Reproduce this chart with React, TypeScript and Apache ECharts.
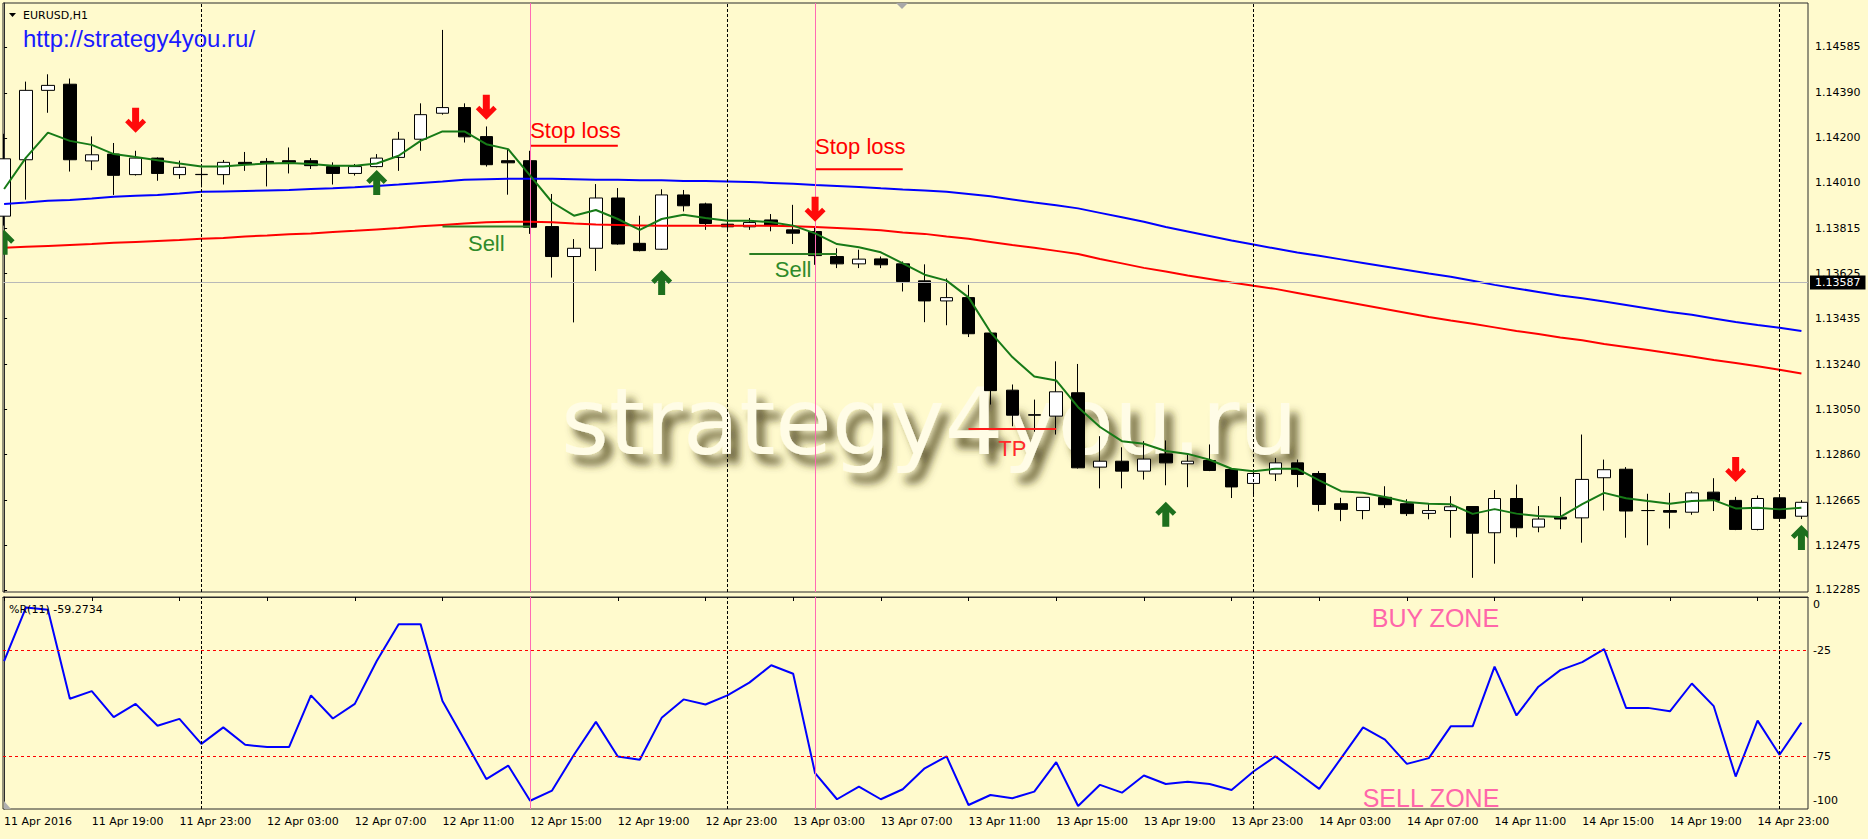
import React, { useEffect, useRef } from 'react';
import * as echarts from 'echarts';

// ---------- DATA ----------
// candles: [open, close, low, high], one per H1 bar starting 11 Apr 2016 15:00
const candles: [number, number, number, number][] = [
  [1.13868, 1.14111, 1.13828, 1.14217], [1.14107, 1.14401, 1.13938, 1.14438], [1.14401, 1.14422, 1.14306, 1.14469],
  [1.14427, 1.14107, 1.14057, 1.14451], [1.14102, 1.14128, 1.14063, 1.14206], [1.14131, 1.14041, 1.13958, 1.14178],
  [1.14044, 1.14114, 1.14040, 1.14145], [1.14114, 1.14049, 1.14018, 1.14117], [1.14044, 1.14075, 1.14026, 1.14103],
  [1.14044, 1.14045, 1.13990, 1.14075], [1.14044, 1.14096, 1.14002, 1.14106], [1.14096, 1.14089, 1.14060, 1.14140],
  [1.14100, 1.14093, 1.13994, 1.14114], [1.14103, 1.14096, 1.14049, 1.14159], [1.14103, 1.14082, 1.14068, 1.14114],
  [1.14078, 1.14049, 1.14002, 1.14096], [1.14049, 1.14078, 1.14040, 1.14089], [1.14078, 1.14114, 1.14075, 1.14131],
  [1.14117, 1.14194, 1.14060, 1.14225], [1.14194, 1.14298, 1.14145, 1.14346], [1.14304, 1.14328, 1.14298, 1.14657],
  [1.14328, 1.14204, 1.14180, 1.14346], [1.14205, 1.14086, 1.14078, 1.14248], [1.14103, 1.14094, 1.13959, 1.14152],
  [1.14103, 1.13821, 1.13793, 1.14145], [1.13824, 1.13697, 1.13608, 1.13962], [1.13697, 1.13732, 1.13418, 1.13771],
  [1.13732, 1.13945, 1.13636, 1.14004], [1.13945, 1.13750, 1.13747, 1.13987], [1.13753, 1.13722, 1.13719, 1.13870],
  [1.13728, 1.13958, 1.13725, 1.13982], [1.13958, 1.13912, 1.13888, 1.13979], [1.13920, 1.13837, 1.13810, 1.13925],
  [1.13834, 1.13823, 1.13808, 1.13899], [1.13823, 1.13841, 1.13810, 1.13860], [1.13852, 1.13828, 1.13804, 1.13877],
  [1.13810, 1.13796, 1.13750, 1.13916], [1.13803, 1.13701, 1.13662, 1.13824], [1.13697, 1.13666, 1.13648, 1.13732],
  [1.13666, 1.13686, 1.13648, 1.13726], [1.13687, 1.13662, 1.13648, 1.13697], [1.13666, 1.13591, 1.13549, 1.13676],
  [1.13594, 1.13509, 1.13419, 1.13664], [1.13509, 1.13523, 1.13406, 1.13604], [1.13523, 1.13370, 1.13356, 1.13577],
  [1.13373, 1.13129, 1.13070, 1.13373], [1.13131, 1.13025, 1.12978, 1.13155], [1.13027, 1.13025, 1.12955, 1.13091],
  [1.13021, 1.13124, 1.12943, 1.13253], [1.13120, 1.12802, 1.12799, 1.13242], [1.12805, 1.12830, 1.12715, 1.12936],
  [1.12830, 1.12788, 1.12715, 1.12889], [1.12788, 1.12839, 1.12752, 1.12915], [1.12861, 1.12823, 1.12728, 1.12918],
  [1.12819, 1.12830, 1.12720, 1.12858], [1.12833, 1.12791, 1.12788, 1.12901], [1.12795, 1.12721, 1.12674, 1.12795],
  [1.12736, 1.12778, 1.12688, 1.12788], [1.12776, 1.12823, 1.12746, 1.12844], [1.12823, 1.12774, 1.12720, 1.12837],
  [1.12778, 1.12647, 1.12618, 1.12788], [1.12650, 1.12626, 1.12576, 1.12675], [1.12621, 1.12677, 1.12584, 1.12677],
  [1.12677, 1.12646, 1.12632, 1.12724], [1.12650, 1.12608, 1.12598, 1.12669], [1.12609, 1.12621, 1.12584, 1.12653],
  [1.12621, 1.12637, 1.12506, 1.12682], [1.12638, 1.12525, 1.12336, 1.12638], [1.12527, 1.12672, 1.12396, 1.12708],
  [1.12672, 1.12548, 1.12508, 1.12731], [1.12551, 1.12585, 1.12529, 1.12640], [1.12593, 1.12585, 1.12542, 1.12679],
  [1.12590, 1.12753, 1.12485, 1.12943], [1.12760, 1.12794, 1.12621, 1.12837], [1.12796, 1.12619, 1.12506, 1.12805],
  [1.12621, 1.12621, 1.12474, 1.12692], [1.12621, 1.12614, 1.12545, 1.12696], [1.12614, 1.12696, 1.12603, 1.12703],
  [1.12699, 1.12664, 1.12619, 1.12758], [1.12664, 1.12541, 1.12538, 1.12679], [1.12541, 1.12672, 1.12537, 1.12685],
  [1.12675, 1.12588, 1.12585, 1.12680], [1.12597, 1.12656, 1.12585, 1.12665],
];

const maGreen = [
  1.13983, 1.14116, 1.14222, 1.14187, 1.14170, 1.14131, 1.14119, 1.14105, 1.14091, 1.14078,
  1.14078, 1.14086, 1.14091, 1.14093, 1.14089, 1.14082, 1.14082, 1.14091, 1.14124, 1.14187,
  1.14227, 1.14227, 1.14173, 1.14152, 1.14040, 1.13927, 1.13870, 1.13894, 1.13856, 1.13810,
  1.13856, 1.13874, 1.13860, 1.13849, 1.13849, 1.13842, 1.13828, 1.13795, 1.13750, 1.13736,
  1.13715, 1.13668, 1.13620, 1.13595, 1.13524, 1.13377, 1.13271, 1.13189, 1.13172, 1.13059,
  1.12975, 1.12915, 1.12904, 1.12873, 1.12861, 1.12836, 1.12798, 1.12788, 1.12798, 1.12798,
  1.12749, 1.12703, 1.12696, 1.12678, 1.12657, 1.12650, 1.12648, 1.12607, 1.12627, 1.12608,
  1.12598, 1.12594, 1.12648, 1.12696, 1.12673, 1.12661, 1.12650, 1.12661, 1.12665, 1.12630,
  1.12633, 1.12626, 1.12633,
];

const maBlue = [
  1.13920, 1.13926, 1.13933, 1.13937, 1.13943, 1.13950, 1.13954, 1.13958, 1.13964, 1.13971,
  1.13973, 1.13975, 1.13977, 1.13979, 1.13983, 1.13986, 1.13990, 1.13996, 1.14002, 1.14009,
  1.14015, 1.14022, 1.14024, 1.14026, 1.14026, 1.14026, 1.14024, 1.14022, 1.14022, 1.14020,
  1.14020, 1.14017, 1.14017, 1.14015, 1.14013, 1.14009, 1.14005, 1.14000, 1.13996, 1.13992,
  1.13986, 1.13981, 1.13977, 1.13971, 1.13962, 1.13952, 1.13939, 1.13926, 1.13914, 1.13901,
  1.13882, 1.13863, 1.13844, 1.13822, 1.13803, 1.13784, 1.13765, 1.13748, 1.13731, 1.13714,
  1.13700, 1.13685, 1.13670, 1.13655, 1.13640, 1.13625, 1.13611, 1.13594, 1.13577, 1.13562,
  1.13547, 1.13532, 1.13520, 1.13507, 1.13492, 1.13477, 1.13462, 1.13450, 1.13435, 1.13420,
  1.13407, 1.13395, 1.13382,
];

const maRed = [
  1.13734, 1.13738, 1.13742, 1.13746, 1.13750, 1.13755, 1.13759, 1.13763, 1.13767, 1.13772,
  1.13776, 1.13782, 1.13786, 1.13791, 1.13795, 1.13801, 1.13806, 1.13812, 1.13818, 1.13825,
  1.13831, 1.13837, 1.13842, 1.13844, 1.13844, 1.13842, 1.13837, 1.13833, 1.13831, 1.13829,
  1.13827, 1.13827, 1.13827, 1.13827, 1.13827, 1.13827, 1.13825, 1.13822, 1.13818, 1.13814,
  1.13808, 1.13799, 1.13793, 1.13782, 1.13772, 1.13759, 1.13746, 1.13734, 1.13721, 1.13708,
  1.13687, 1.13668, 1.13649, 1.13634, 1.13617, 1.13602, 1.13587, 1.13573, 1.13560, 1.13543,
  1.13526, 1.13509, 1.13492, 1.13475, 1.13458, 1.13441, 1.13426, 1.13412, 1.13397, 1.13382,
  1.13369, 1.13354, 1.13342, 1.13327, 1.13314, 1.13301, 1.13287, 1.13274, 1.13259, 1.13246,
  1.13232, 1.13217, 1.13202,
];

// Williams %R(11)
const wpr = [
  -30.2, -4.9, -6.0, -48.0, -44.4, -56.7, -50.4, -60.7, -57.5, -69.3,
  -61.5, -69.7, -70.8, -70.8, -46.4, -57.3, -50.4, -30.2, -12.8, -12.8,
  -49.1, -67.3, -85.9, -79.5, -96.1, -91.3, -74.4, -58.9, -75.2, -76.8,
  -57.0, -48.3, -50.7, -46.4, -40.4, -32.2, -36.2, -83.1, -95.4, -89.4,
  -95.4, -90.7, -80.8, -75.2, -98.1, -93.4, -94.9, -91.8, -77.9, -98.6,
  -88.6, -92.3, -84.2, -88.2, -87.1, -88.2, -91.0, -82.3, -75.2, -82.8,
  -90.5, -76.0, -61.5, -67.3, -78.7, -76.0, -61.0, -61.0, -32.8, -55.9,
  -42.3, -34.5, -30.7, -24.6, -52.3, -52.3, -53.9, -40.8, -51.5, -84.7,
  -58.3, -74.4, -59.2734,
];

const priceTicks = [1.14585, 1.1439, 1.142, 1.1401, 1.13815, 1.13625, 1.13435, 1.1324, 1.1305, 1.1286, 1.12665, 1.12475, 1.12285];
const priceMin = 1.12276;
const priceMax = 1.14771;
const currentPrice = 1.13587;
const wprTicks = [0, -25, -75, -100];
const wprLevels = [-25, -75];

const timeLabelBars = [0, 4, 8, 12, 16, 20, 24, 28, 32, 36, 40, 44, 48, 52, 56, 60, 64, 68, 72, 76, 80];
const timeLabels = [
  '11 Apr 2016', '11 Apr 19:00', '11 Apr 23:00', '12 Apr 03:00', '12 Apr 07:00', '12 Apr 11:00', '12 Apr 15:00',
  '12 Apr 19:00', '12 Apr 23:00', '13 Apr 03:00', '13 Apr 07:00', '13 Apr 11:00', '13 Apr 15:00', '13 Apr 19:00',
  '13 Apr 23:00', '14 Apr 03:00', '14 Apr 07:00', '14 Apr 11:00', '14 Apr 15:00', '14 Apr 19:00', '14 Apr 23:00',
];
const daySeparatorBars = [9, 33, 57, 81];
const signalBars = [24, 37];

// arrows: [bar, price at arrow tip]
const downArrows: [number, number][] = [[6, 1.14221], [22, 1.14276], [37, 1.13844], [79, 1.12742]];
const upArrows: [number, number][] = [[0, 1.1381], [17, 1.14064], [30, 1.1364], [53, 1.12658], [82, 1.1256]];

// level segments: [fromBar, toBar, price]
const stopLossLevels: [number, number, number][] = [[24, 28, 1.14166], [37, 41, 1.14067]];
const sellLevels: [number, number, number][] = [[20, 24, 1.13824], [34, 38, 1.13708]];
const takeProfitLevels: [number, number, number][] = [[44, 48, 1.12966]];

// chart notes
const noteTexts = ['Stop loss', 'Stop loss', 'Sell', 'Sell', 'TP'];
const noteBars = [24, 37, 22, 36, 46];
const notePrices = [1.14229, 1.14163, 1.13753, 1.1364, 1.12882];

const zoneTexts = ['BUY ZONE', 'SELL ZONE'];
const zoneBars = [65.3, 65.1];
const zoneValues = [-10, -95];

// ---------- STYLE ----------
const BG = '#fffacd';
const FRAME = '#2b2b2b';
const AXIS_FONT = 'DejaVu Sans';
const X_MIN = -0.05;
const X_MAX = 82.3;
const noteStyle: Record<string, { color: string; align: string }> = {
  'Stop loss': { color: '#ff0000', align: 'left' },
  Sell: { color: '#2f8a2a', align: 'center' },
  TP: { color: '#ff2a2a', align: 'center' },
};

function segSeries(levels: [number, number, number][], color: string, name: string) {
  return levels.map((l, k) => ({
    type: 'line',
    name: name + k,
    xAxisIndex: 0,
    yAxisIndex: 0,
    data: [[l[0], l[2]], [l[1], l[2]]],
    symbol: 'none',
    lineStyle: { color, width: 2 },
    z: 4,
    silent: true,
  }));
}

export default function App() {
  const ref = useRef<HTMLDivElement>(null);

  useEffect(() => {
    if (!ref.current) return;
    const chart = echarts.init(ref.current, null, { renderer: 'svg' });

    const arrowData = [
      ...upArrows.map((a) => [a[0], a[1], 1]),
      ...downArrows.map((a) => [a[0], a[1], -1]),
    ];
    const arrowShape = [[0, 0], [-10.5, 10.5], [-7, 14], [-3.5, 10.5], [-3.5, 25], [3.5, 25], [3.5, 10.5], [7, 14], [10.5, 10.5]];

    const option: any = {
      animation: false,
      backgroundColor: BG,
      grid: [
        { left: 3, top: 3, width: 1805, height: 589, show: true, borderColor: FRAME, borderWidth: 1, backgroundColor: 'transparent' },
        { left: 3, top: 597, width: 1805, height: 212, show: true, borderColor: FRAME, borderWidth: 1, backgroundColor: 'transparent' },
      ],
      xAxis: [
        { type: 'value', gridIndex: 0, min: X_MIN, max: X_MAX, show: false },
        {
          type: 'value', gridIndex: 1, min: X_MIN, max: X_MAX, position: 'bottom',
          axisLine: { show: true, lineStyle: { color: FRAME, width: 1 } },
          axisTick: { show: true, customValues: timeLabelBars, length: 4, lineStyle: { color: '#000' } },
          axisLabel: {
            customValues: timeLabelBars,
            formatter: (v: number) => timeLabels[timeLabelBars.indexOf(Math.round(v))] ?? '',
            align: 'left', margin: 7, fontSize: 11, fontFamily: AXIS_FONT, color: '#000',
          },
          splitLine: { show: false },
        },
      ],
      yAxis: [
        {
          type: 'value', gridIndex: 0, position: 'right', min: priceMin, max: priceMax,
          axisLine: { show: true, lineStyle: { color: FRAME } },
          axisTick: { show: true, customValues: priceTicks, length: 3, lineStyle: { color: '#000' } },
          axisLabel: {
            customValues: priceTicks, formatter: (v: number) => v.toFixed(5),
            margin: 7, fontSize: 11, fontFamily: AXIS_FONT, color: '#000',
          },
          splitLine: { show: false },
        },
        {
          type: 'value', gridIndex: 1, position: 'right', min: -100, max: 0,
          axisLine: { show: true, lineStyle: { color: FRAME } },
          axisTick: { show: false },
          axisLabel: {
            customValues: wprTicks,
            formatter: (v: number) => (v === 0 ? '{t|0}' : v === -100 ? '{b|-100}' : '{n|' + v + '}'),
            margin: 5, fontSize: 11, fontFamily: AXIS_FONT, color: '#000',
            rich: {
              t: { fontSize: 11, fontFamily: AXIS_FONT, color: '#000', padding: [14, 0, 0, 0] },
              b: { fontSize: 11, fontFamily: AXIS_FONT, color: '#000', padding: [0, 0, 18, 0] },
              n: { fontSize: 11, fontFamily: AXIS_FONT, color: '#000' },
            },
          },
          splitLine: { show: false },
        },
      ],
      graphic: [
        {
          type: 'text', x: 561, y: 422, z: 1, silent: true,
          style: {
            text: 'strategy4you.ru', font: '92px "DejaVu Sans"', fill: '#fffce6',
            align: 'left', verticalAlign: 'middle', textAlign: 'left', textVerticalAlign: 'middle',
            textShadowColor: 'rgba(70,65,20,0.85)', textShadowBlur: 9, textShadowOffsetX: 8, textShadowOffsetY: 10,
          },
        },
        { type: 'polygon', z: 10, shape: { points: [[9, 13], [16, 13], [12.5, 17]] }, style: { fill: '#000' } },
        {
          type: 'text', x: 23, y: 15, z: 10,
          style: { text: 'EURUSD,H1', font: '11px "DejaVu Sans"', fill: '#000', align: 'left', verticalAlign: 'middle', textAlign: 'left', textVerticalAlign: 'middle' },
        },
        {
          type: 'text', x: 23, y: 38, z: 10,
          style: { text: 'http://strategy4you.ru/', font: '24px "Liberation Sans"', fill: '#1a1aff', align: 'left', verticalAlign: 'middle', textAlign: 'left', textVerticalAlign: 'middle' },
        },
        { type: 'polygon', z: 10, shape: { points: [[896, 3], [908, 3], [902, 9]] }, style: { fill: '#a8a8a8' } },
        {
          type: 'text', x: 9, y: 609, z: 10,
          style: { text: '%R(11) ' + wpr[wpr.length - 1].toFixed(4), font: '11px "DejaVu Sans"', fill: '#000', align: 'left', verticalAlign: 'middle', textAlign: 'left', textVerticalAlign: 'middle' },
        },
        { type: 'polygon', z: 10, shape: { points: [[4, 801], [4, 809], [11, 809]] }, style: { fill: '#b0b0b0' } },
      ],
      series: [
        // vertical separators + current price line in main pane
        {
          type: 'line', xAxisIndex: 0, yAxisIndex: 0, data: [], z: 1, silent: true,
          markLine: {
            silent: true, symbol: ['none', 'none'], label: { show: false }, animation: false, precision: 5,
            data: [
              ...daySeparatorBars.map((b) => ({ xAxis: b, lineStyle: { color: '#000', type: [3, 2], width: 1 } })),
              ...signalBars.map((b) => ({ xAxis: b, lineStyle: { color: '#ff6ab4', type: 'solid', width: 1 } })),
              {
                yAxis: currentPrice,
                lineStyle: { color: '#b8b8b8', type: 'solid', width: 1 },
                label: {
                  show: true, position: 'end', distance: 2, formatter: currentPrice.toFixed(5),
                  color: '#fff', backgroundColor: '#000', padding: [2, 5, 1, 5],
                  fontSize: 11, fontFamily: AXIS_FONT,
                },
              },
            ],
          },
        },
        // vertical separators + levels in sub pane
        {
          type: 'line', xAxisIndex: 1, yAxisIndex: 1, data: [], z: 1, silent: true,
          markLine: {
            silent: true, symbol: ['none', 'none'], label: { show: false }, animation: false, precision: 5,
            data: [
              ...daySeparatorBars.map((b) => ({ xAxis: b, lineStyle: { color: '#000', type: [3, 2], width: 1 } })),
              ...signalBars.map((b) => ({ xAxis: b, lineStyle: { color: '#ff6ab4', type: 'solid', width: 1 } })),
              ...wprLevels.map((v) => ({ yAxis: v, lineStyle: { color: '#ff0000', type: [3, 3], width: 1 } })),
            ],
          },
        },
        {
          type: 'candlestick', xAxisIndex: 0, yAxisIndex: 0, z: 3,
          data: candles.map((c, i) => [i, c[0], c[1], c[2], c[3]]),
          barWidth: 13,
          itemStyle: { color: '#ffffff', color0: '#000000', borderColor: '#000000', borderColor0: '#000000', borderWidth: 1 },
          silent: true,
        },
        {
          type: 'line', xAxisIndex: 0, yAxisIndex: 0, z: 4, data: maBlue.map((v, i) => [i, v]),
          symbol: 'none', lineStyle: { color: '#0000ff', width: 2 }, silent: true,
        },
        {
          type: 'line', xAxisIndex: 0, yAxisIndex: 0, z: 4, data: maRed.map((v, i) => [i, v]),
          symbol: 'none', lineStyle: { color: '#ff0000', width: 2 }, silent: true,
        },
        {
          type: 'line', xAxisIndex: 0, yAxisIndex: 0, z: 5, data: maGreen.map((v, i) => [i, v]),
          symbol: 'none', lineStyle: { color: '#177a17', width: 2 }, silent: true,
        },
        ...segSeries(stopLossLevels, '#ff0000', 'sl'),
        ...segSeries(sellLevels, '#2a7d22', 'sell'),
        ...segSeries(takeProfitLevels, '#ff1a1a', 'tp'),
        {
          type: 'custom', xAxisIndex: 0, yAxisIndex: 0, z: 6, clip: true, silent: true,
          data: arrowData,
          encode: { x: 0, y: 1 },
          renderItem: (_p: any, api: any) => {
            const pt = api.coord([api.value(0), api.value(1)]);
            const dir = api.value(2);
            const points = arrowShape.map(([dx, dy]) => [pt[0] + dx, pt[1] + (dir > 0 ? dy : -dy)]);
            return { type: 'polygon', shape: { points }, style: { fill: dir > 0 ? '#1d6f1d' : '#ff0a0a' } };
          },
        },
        {
          type: 'custom', xAxisIndex: 0, yAxisIndex: 0, z: 6, silent: true,
          data: noteTexts.map((_t, k) => [noteBars[k], notePrices[k], k]),
          encode: { x: 0, y: 1 },
          renderItem: (_p: any, api: any) => {
            const k = api.value(2);
            const pt = api.coord([api.value(0), api.value(1)]);
            const txt = noteTexts[k];
            const st = noteStyle[txt];
            return {
              type: 'text', x: pt[0], y: pt[1],
              style: {
                text: txt, fill: st.color, font: '22px "Liberation Sans"',
                align: st.align, verticalAlign: 'middle', textAlign: st.align, textVerticalAlign: 'middle',
              },
            };
          },
        },
        {
          type: 'line', xAxisIndex: 1, yAxisIndex: 1, z: 4, data: wpr.map((v, i) => [i, v]),
          symbol: 'none', lineStyle: { color: '#0000ff', width: 2 }, silent: true,
        },
        {
          type: 'custom', xAxisIndex: 1, yAxisIndex: 1, z: 6, silent: true,
          data: zoneTexts.map((_t, k) => [zoneBars[k], zoneValues[k], k]),
          encode: { x: 0, y: 1 },
          renderItem: (_p: any, api: any) => {
            const k = api.value(2);
            const pt = api.coord([api.value(0), api.value(1)]);
            return {
              type: 'text', x: pt[0], y: pt[1],
              style: {
                text: zoneTexts[k], fill: '#ff66aa', font: '25px "Liberation Sans"',
                align: 'center', verticalAlign: 'middle', textAlign: 'center', textVerticalAlign: 'middle',
              },
            };
          },
        },
      ],
    };

    chart.setOption(option);
    return () => chart.dispose();
  }, []);

  return (
    <div
      ref={ref}
      style={{ position: 'fixed', left: 0, top: 0, width: 1868, height: 839, background: BG }}
    />
  );
}
